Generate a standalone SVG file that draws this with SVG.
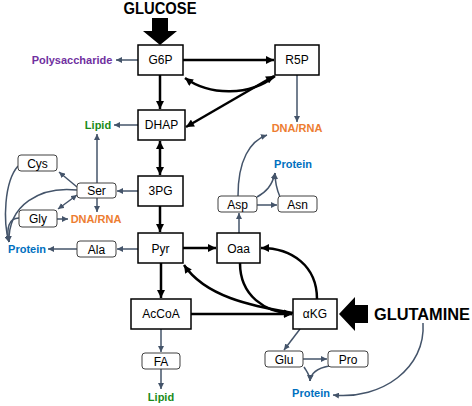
<svg xmlns="http://www.w3.org/2000/svg" width="472" height="406" viewBox="0 0 472 406">
<style>
.box{fill:#fff;stroke:#000;stroke-width:1.5}
.rbox{fill:#fff;stroke:#404040;stroke-width:1}
.lbl{font-family:"Liberation Sans",Arial,sans-serif;font-size:12px;fill:#000;text-anchor:middle}
.prod{font-family:"Liberation Sans",Arial,sans-serif;font-size:11px;font-weight:bold;text-anchor:middle}
.big{font-family:"Liberation Sans",Arial,sans-serif;font-size:16px;font-weight:bold;fill:#000}
.thick{fill:none;stroke:#000;stroke-width:2.5;marker-end:url(#ah)}
.thin{fill:none;stroke:#44546A;stroke-width:1.5;marker-end:url(#ahs)}
.dbl{marker-start:url(#ah)}
.dbls{marker-start:url(#ahs)}
.orange{fill:#ED7D31}.blue{fill:#0070C0}.green{fill:#1A8C1A}.purple{fill:#7030A0}
</style>
<defs>
<marker id="ah" markerUnits="userSpaceOnUse" viewBox="0 0 10 10" refX="10" refY="5" markerWidth="9" markerHeight="8" orient="auto-start-reverse"><path d="M0,0 L10,5 L0,10 z" fill="#000"/></marker>
<marker id="ahs" markerUnits="userSpaceOnUse" viewBox="0 0 10 10" refX="10" refY="5" markerWidth="6" markerHeight="6" orient="auto-start-reverse"><path d="M0,0 L10,5 L0,10 z" fill="#44546A"/></marker>
</defs>

<g id="connectors">
<path class="thick" d="M183,60 L274,60"/>
<path class="thick" d="M275,76 C250,96 210,96 185,78"/>
<path class="thick dbl" d="M186,127 L274,76"/>
<path class="thick" d="M160,75 L160,109"/>
<path class="thick dbl" d="M160,141 L160,175"/>
<path class="thick" d="M160,206 L160,232"/>
<path class="thick" d="M183,248 L216,248"/>
<path class="thick" d="M161,263 L161,298"/>
<path class="thick" d="M190,314 L292,314"/>
<path class="thick" d="M240,263 C240,296 265,312 292,314"/>
<path class="thick" d="M317,299 C317,266 292,248 261,248"/>
<path class="thick" d="M293,313 C250,306 205,296 184,265"/>

<path class="thin" d="M138,60 L116,60"/>
<path class="thin" d="M138,125 L114,125"/>
<path class="thin" d="M297,75 L297,122"/>
<path class="thin" d="M97,183 L97,134"/>
<path class="thin" d="M97,198 L97,212"/>
<path class="thin" d="M57,219 L68,219"/>
<path class="thin dbls" d="M77,195 L58,209"/>
<path class="thin" d="M77,187 L59,172"/>
<path class="thin" d="M138,191 L117,191"/>
<path class="thin" d="M138,249 L117,249"/>
<path class="thin" d="M77,249 L48,249"/>
<path class="thin" d="M18,166 C4,182 3,222 9,242"/>
<path class="thin" d="M77,190 C40,186 8,205 9,242"/>
<path class="thin" d="M19,218 C9,218 6,228 9,242"/>
<path class="thin" d="M239,234 L239,213"/>
<path class="thin" d="M257,205 L277,205"/>
<path class="thin" d="M238,196 C238,160 250,141 267,135"/>
<path class="thin" d="M257,197 C266,192 272,186 275,173"/>
<path class="thin" d="M280,197 C277,190 275,184 275,173"/>
<path class="thin" d="M161,329 L161,352"/>
<path class="thin" d="M161,369 L161,389"/>
<path class="thin" d="M300,329 L284,350"/>
<path class="thin" d="M303,359 L327,359"/>
<path class="thin" d="M304,367 C307,372 310,375 310,381"/>
<path class="thin" d="M329,366 C318,368 311,372 310,381"/>
<path class="thin" d="M423,323 C426,368 382,400 333,395"/>
</g>

<g id="glucose">
<text class="big" x="160" y="14" text-anchor="middle" textLength="73" lengthAdjust="spacingAndGlyphs">GLUCOSE</text>
<polygon points="152,18 168,18 168,31 177,31 160,45 143,31 152,31" fill="#000"/>
</g>
<g id="glutamine">
<text class="big" x="374" y="320" textLength="96" lengthAdjust="spacingAndGlyphs">GLUTAMINE</text>
<polygon points="368,305 355,305 355,297 339,314 355,331 355,323 368,323" fill="#000"/>
</g>

<g id="G6P"><rect class="box" x="138" y="45" width="45" height="30"/><text class="lbl" x="160.5" y="64">G6P</text></g>
<g id="R5P"><rect class="box" x="275" y="45" width="44" height="30"/><text class="lbl" x="297" y="64">R5P</text></g>
<g id="DHAP"><rect class="box" x="138" y="110" width="47" height="30"/><text class="lbl" x="161.5" y="129">DHAP</text></g>
<g id="3PG"><rect class="box" x="138" y="176" width="45" height="30"/><text class="lbl" x="160.5" y="195">3PG</text></g>
<g id="Pyr"><rect class="box" x="138" y="233" width="45" height="30"/><text class="lbl" x="160.5" y="252.5">Pyr</text></g>
<g id="Oaa"><rect class="box" x="217" y="233" width="43" height="30"/><text class="lbl" x="238.5" y="252.5">Oaa</text></g>
<g id="AcCoA"><rect class="box" x="131" y="299" width="60" height="30"/><text class="lbl" x="161" y="318">AcCoA</text></g>
<g id="aKG"><rect class="box" x="293" y="299" width="44" height="30"/><text class="lbl" x="315" y="318">αKG</text></g>

<g id="Cys"><rect class="rbox" x="18" y="155" width="39" height="16" rx="3"/><text class="lbl" x="37.5" y="167.5">Cys</text></g>
<g id="Ser"><rect class="rbox" x="77" y="183" width="39" height="15" rx="3"/><text class="lbl" x="96.5" y="195">Ser</text></g>
<g id="Gly"><rect class="rbox" x="19" y="210" width="38" height="17" rx="3"/><text class="lbl" x="38" y="223">Gly</text></g>
<g id="Ala"><rect class="rbox" x="77" y="241" width="39" height="16" rx="3"/><text class="lbl" x="96.5" y="253.5">Ala</text></g>
<g id="Asp"><rect class="rbox" x="218" y="196" width="39" height="16" rx="3"/><text class="lbl" x="237.5" y="208.5">Asp</text></g>
<g id="Asn"><rect class="rbox" x="278" y="196" width="39" height="16" rx="3"/><text class="lbl" x="297.5" y="208.5">Asn</text></g>
<g id="FA"><rect class="rbox" x="142" y="353" width="38" height="16" rx="3"/><text class="lbl" x="161" y="365.5">FA</text></g>
<g id="Glu"><rect class="rbox" x="265" y="351" width="38" height="16" rx="3"/><text class="lbl" x="284" y="363.5">Glu</text></g>
<g id="Pro"><rect class="rbox" x="328" y="351" width="40" height="16" rx="3"/><text class="lbl" x="348" y="363.5">Pro</text></g>

<g id="products">
<text class="prod purple" x="72" y="64">Polysaccharide</text>
<text class="prod green" x="98" y="129">Lipid</text>
<text class="prod orange" x="297" y="132">DNA/RNA</text>
<text class="prod orange" x="96" y="223">DNA/RNA</text>
<text class="prod blue" x="27" y="253">Protein</text>
<text class="prod blue" x="293" y="168">Protein</text>
<text class="prod blue" x="311" y="397">Protein</text>
<text class="prod green" x="161" y="401">Lipid</text>
</g>
</svg>
